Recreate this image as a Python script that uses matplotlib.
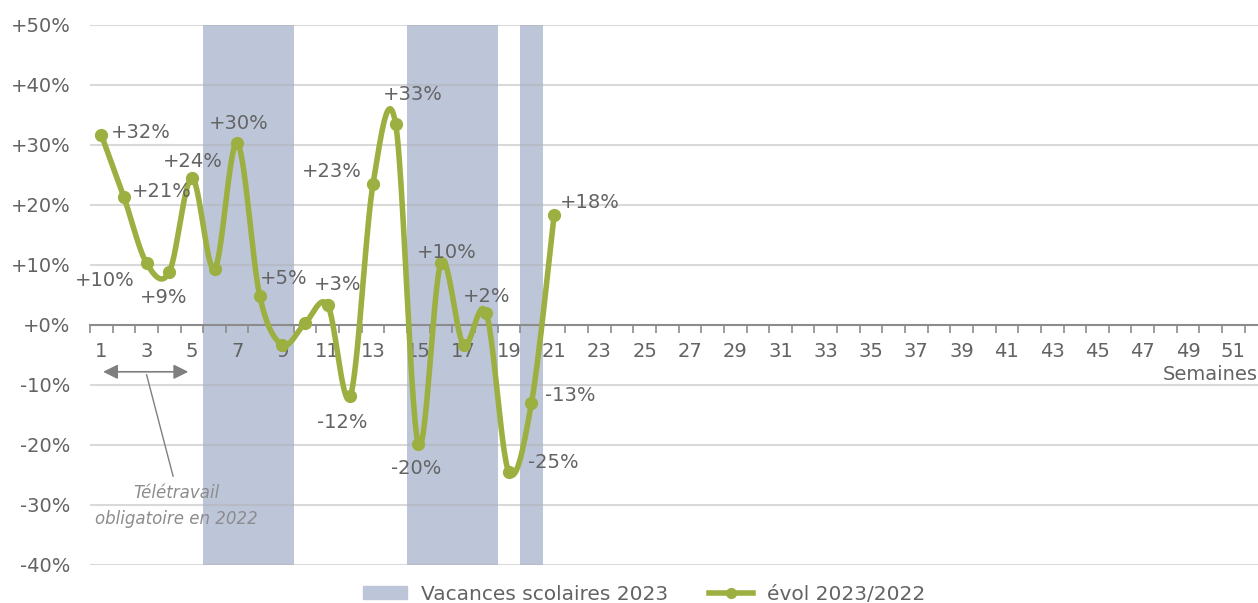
# -*- coding: utf-8 -*-

import numpy as np
import matplotlib.pyplot as plt
from matplotlib.patches import Patch
from matplotlib.lines import Line2D

plt.rcParams['font.family'] = ['DejaVu Sans']

# données
semaines = list(range(1, 22))
evol = [31.7, 21.3, 10.3, 8.8, 24.5, 9.3, 30.3, 4.8, -3.3, 0.3, 3.3, -11.8,
        23.5, 33.5, -19.8, 10.3, -3.3, 2.0, -24.5, -13.0, 18.3]
etiquettes = ['+32%', '+21%', '+10%', '+9%', '+24%', '', '+30%', '+5%', '', '',
              '+3%', '-12%', '+23%', '+33%', '-20%', '+10%', '', '+2%', '-25%',
              '-13%', '+18%']
vacances = [6, 7, 8, 9, 15, 16, 17, 18, 20]  # semaines de vacances scolaires 2023
y_ticks = [-40, -30, -20, -10, 0, 10, 20, 30, 40, 50]

# décalage des étiquettes (pixels)
decalages = {1: (39, 2), 2: (38, 6), 3: (-42, -17), 4: (-6, -25), 5: (1, 16),
             7: (2, 20), 8: (24, 18), 11: (10, 21), 12: (-8, -27), 13: (-41, 12),
             14: (17, 29), 15: (-2, -25), 16: (6, 11), 18: (0, 16), 19: (44, 9),
             20: (39, 7), 21: (36, 13)}

gris = '#636363'
vert = '#9BB040'
bleu = '#BDC6D9'
taille = 14


def lissage(x, y, n=30):
    # courbe lissée type Excel (Catmull-Rom -> Bézier)
    p = np.column_stack([x, y]).astype(float)
    pts = []
    for i in range(len(p) - 1):
        p0 = p[i - 1] if i > 0 else p[i]
        p3 = p[i + 2] if i + 2 < len(p) else p[i + 1]
        p1, p2 = p[i], p[i + 1]
        c1 = p1 + (p2 - p0) / 6
        c2 = p2 - (p3 - p1) / 6
        t = np.linspace(0, 1, n)[:, None]
        seg = ((1 - t) ** 3) * p1 + 3 * ((1 - t) ** 2) * t * c1 + 3 * (1 - t) * t ** 2 * c2 + t ** 3 * p2
        pts.append(seg)
    pts = np.vstack(pts)
    return pts[:, 0], pts[:, 1]


fig = plt.figure(figsize=(12.58, 6.03), dpi=100)
ax = fig.add_axes([90 / 1258, 1 - 565 / 603, 1 - 90 / 1258, 540 / 603])

# bandes vacances
ax.bar(vacances, [90] * len(vacances), bottom=-40, width=1.0, color=bleu, zorder=1)

# grille
for v in y_ticks:
    if v != 0:
        ax.axhline(v, color='#b0b0b0', lw=1.5, alpha=0.48, zorder=2)

for s in ['top', 'right', 'left']:
    ax.spines[s].set_visible(False)
ax.spines['bottom'].set_position(('data', 0))
ax.spines['bottom'].set_color('#8c8c8c')
ax.spines['bottom'].set_linewidth(1.5)
ax.spines['bottom'].set_zorder(3)

ax.set_xticks(range(1, 53, 2))
ax.set_xticklabels([str(i) for i in range(1, 53, 2)])
ax.set_xticks(np.arange(0.5, 53, 1), minor=True)
ax.tick_params(axis='x', which='major', length=0, pad=12.5, labelsize=taille, labelcolor=gris)
ax.tick_params(axis='x', which='minor', length=6, width=1.2, color='#8c8c8c', direction='out')
ax.set_yticks(y_ticks)
ax.set_yticklabels(['%+d%%' % v if v >= 0 else '%d%%' % v for v in y_ticks])
ax.tick_params(axis='y', length=0, pad=14, labelsize=taille, labelcolor=gris)
ax.set_xlim(0.5, 52.09)
ax.set_ylim(-40, 50)

# courbe
xs, ys = lissage(semaines, evol)
ax.plot(xs, ys, color=vert, lw=4, solid_capstyle='round', zorder=4)
ax.plot(semaines, evol, 'o', color=vert, ms=8.5, zorder=5)

for s, v, e in zip(semaines, evol, etiquettes):
    if e:
        ax.annotate(e, (s, v), xytext=decalages[s], textcoords='offset pixels',
                    ha='center', va='center', fontsize=taille, color=gris, zorder=6)

# annotation télétravail
ax.annotate('', xy=(1.08, -7.8), xytext=(4.84, -7.8),
            arrowprops=dict(arrowstyle='<|-|>', color='#7f7f7f', lw=1.2,
                            mutation_scale=22, shrinkA=0, shrinkB=0))
ax.plot([3.0, 4.17], [-8.3, -25.2], color='#7f7f7f', lw=1)
ax.text(4.3, -30.2, 'Télétravail\nobligatoire en 2022', ha='center', va='center',
        fontsize=12, style='italic', color='#8c8c8c', linespacing=1.6)

fig.text(1.0, 1 - 375 / 603, 'Semaines', ha='right', va='center', fontsize=taille, color=gris)

handles = [Patch(color=bleu), Line2D([], [], color=vert, lw=4, marker='o', ms=7)]
fig.legend(handles, ['Vacances scolaires 2023', 'évol 2023/2022'],
           loc='center', bbox_to_anchor=(644 / 1258, 1 - 594 / 603), ncol=2,
           frameon=False, fontsize=14.5, labelcolor=gris, handlelength=2.2,
           handletextpad=0.7, columnspacing=2.0, handleheight=0.6)

fig.savefig('out.png', dpi=100)
